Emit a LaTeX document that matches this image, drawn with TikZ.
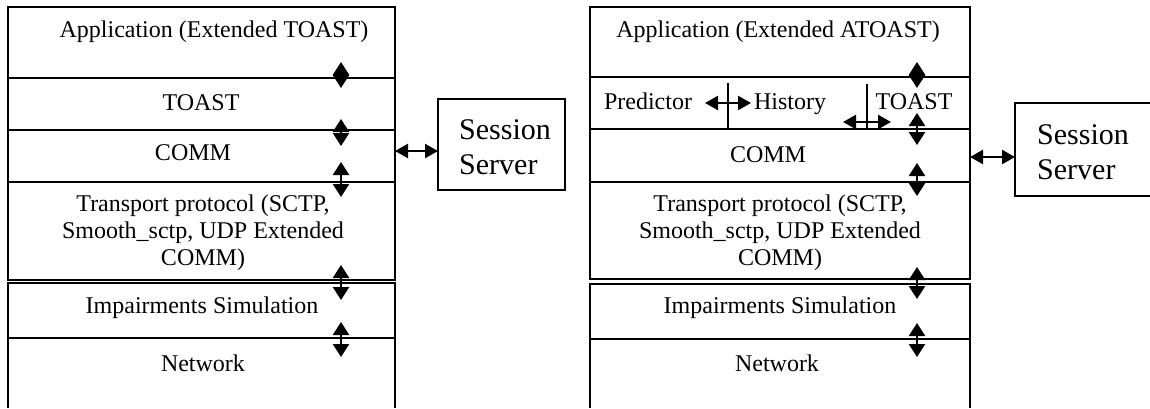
\documentclass[tikz,border=0pt]{standalone}
\usepackage{fontspec}
\setmainfont{Liberation Serif}
\usetikzlibrary{arrows.meta}
\begin{document}
\begin{tikzpicture}[x=1pt,y=-1pt,
  layerline/.style={line width=1.6pt},
  sepline/.style={line width=1.1pt},
  lbl/.style={font=\fontsize{24}{27}\selectfont, inner sep=0pt, align=center},
  srvtext/.style={font=\fontsize{30}{35}\selectfont, inner sep=0pt, align=left, anchor=west},
  srvbox/.style={draw, line width=1.6pt, inner sep=0pt},
  varrow/.style={line width=2.4pt, {Triangle[length=13pt,width=16pt]}-{Triangle[length=13pt,width=16pt]}},
  harrow/.style={line width=2.4pt, {Triangle[length=13pt,width=14pt]}-{Triangle[length=13pt,width=14pt]}}
]
\useasboundingbox (0,0) rectangle (1150,408);

% ---------- left stack ----------
\draw[layerline] (8,7) rectangle (395,280);
\draw[layerline] (8,78) -- (395,78);
\draw[layerline] (8,130) -- (395,130);
\draw[layerline] (8,182) -- (395,182);
\draw[layerline] (8,283) rectangle (395,338);
\draw[layerline] (8,408) -- (8,338) -- (395,338) -- (395,408);

\node[lbl] (lapp) at (214,32) {Application (Extended TOAST)};
\node[lbl] (ltoast) at (201,103) {TOAST};
\node[lbl] (lcomm) at (193,153) {COMM};
\node[lbl] (ltrans) at (203,233) {Transport protocol (SCTP,\\Smooth\_sctp, UDP Extended\\COMM)};
\node[lbl] (limp) at (202,308) {Impairments Simulation};
\node[lbl] (lnet) at (203,363) {Network};

\coordinate (la1) at (341,62);  \coordinate (lb1) at (341,88);
\coordinate (la2) at (341,119); \coordinate (lb2) at (341,146);
\coordinate (la3) at (341,162); \coordinate (lb3) at (341,197);
\coordinate (la4) at (341,265); \coordinate (lb4) at (341,300);
\coordinate (la5) at (341,322); \coordinate (lb5) at (341,357);
\draw[varrow] (la1) -- (lb1);
\draw[varrow] (la2) -- (lb2);
\draw[varrow] (la3) -- (lb3);
\draw[varrow] (la4) -- (lb4);
\draw[varrow] (la5) -- (lb5);

% left session server
\node[srvbox, minimum width=127pt, minimum height=91pt] (ssl) at (501.5,144.5) {};
\node[srvtext] (sslt) at (459,147.5) {Session\\Server};
\coordinate (lstackR) at (395,151);
\coordinate (sslW) at (438,151);
\draw[harrow] (lstackR) -- (sslW);

% ---------- right stack ----------
\draw[layerline] (590,7) rectangle (970,279);
\draw[layerline] (590,77) -- (970,77);
\draw[layerline] (590,129) -- (970,129);
\draw[layerline] (590,182) -- (970,182);
\draw[layerline] (590,284) rectangle (970,339);
\draw[layerline] (590,408) -- (590,339) -- (970,339) -- (970,408);

\node[lbl] (rapp) at (778,32) {Application (Extended ATOAST)};
\node[lbl, anchor=base] (rpred) at (648,109) {Predictor};
\node[lbl, anchor=base] (rhist) at (790,109) {History};
\node[lbl, anchor=base] (rtoast) at (914,109) {TOAST};
\node[lbl] (rcomm) at (768,155) {COMM};
\node[lbl] (rtrans) at (780,233) {Transport protocol (SCTP,\\Smooth\_sctp, UDP Extended\\COMM)};
\node[lbl] (rimp) at (780,308) {Impairments Simulation};
\node[lbl] (rnet) at (777,363) {Network};

% separators in the middle row
\coordinate (s1t) at (728,83); \coordinate (s1b) at (728,129);
\coordinate (s2t) at (867,84); \coordinate (s2b) at (867,129);
\draw[sepline] (s1t) -- (s1b);
\draw[sepline] (s2t) -- (s2b);
\coordinate (h1a) at (705,103); \coordinate (h1b) at (751,103);
\coordinate (h2a) at (843,122); \coordinate (h2b) at (891,122);
\draw[harrow] (h1a) -- (h1b);
\draw[harrow] (h2a) -- (h2b);

\coordinate (ra1) at (917,62);  \coordinate (rb1) at (917,88);
\coordinate (ra2) at (917,113); \coordinate (rb2) at (917,145);
\coordinate (ra3) at (917,163); \coordinate (rb3) at (917,196);
\coordinate (ra4) at (917,267); \coordinate (rb4) at (917,299);
\coordinate (ra5) at (917,323); \coordinate (rb5) at (917,357);
\draw[varrow] (ra1) -- (rb1);
\draw[varrow] (ra2) -- (rb2);
\draw[varrow] (ra3) -- (rb3);
\draw[varrow] (ra4) -- (rb4);
\draw[varrow] (ra5) -- (rb5);

% right session server (cut by the right edge)
\draw[layerline] (1150,103) -- (1015,103) -- (1015,196) -- (1150,196);
\node[srvtext] (ssrt) at (1037,152.5) {Session\\Server};
\coordinate (rstackR) at (970,157);
\coordinate (ssrW) at (1015,157);
\draw[harrow] (rstackR) -- (ssrW);
\end{tikzpicture}
\end{document}
